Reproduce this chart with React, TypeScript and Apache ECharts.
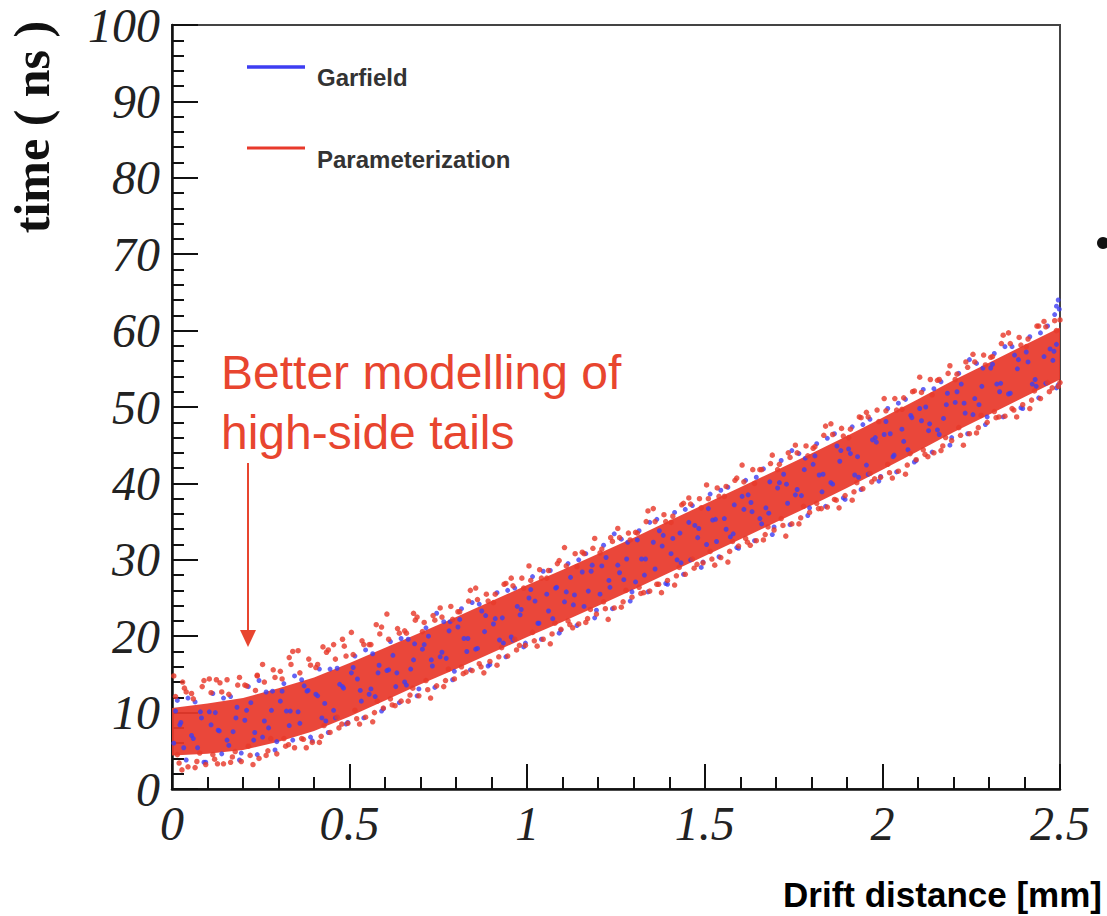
import React, { useEffect, useRef } from "react";
import * as echarts from "echarts";

const RED = "#e8392b";
const BLUE = "#3d3df2";

const seriesNames = ["Garfield", "Parameterization"];

// Dense core of the cloud, x in mm, time in ns
const bandX = [0, 0.1, 0.2, 0.3, 0.4, 0.5, 0.6, 0.7, 0.8, 0.9, 1.0, 1.1, 1.2, 1.3, 1.4, 1.5, 1.6, 1.7, 1.8, 1.9, 2.0, 2.1, 2.2, 2.3, 2.4, 2.5];
const bandLow = [4.4, 4.6, 5.1, 6.2, 7.6, 9.5, 11.6, 13.7, 15.7, 17.8, 19.9, 21.9, 24.0, 26.1, 28.3, 30.5, 32.7, 34.9, 37.1, 39.4, 41.8, 44.2, 46.7, 49.0, 51.3, 53.6];
const bandHigh = [10.6, 11.2, 11.9, 13.2, 14.6, 16.5, 18.5, 20.5, 22.5, 24.6, 26.7, 28.7, 30.8, 32.9, 35.1, 37.3, 39.5, 41.7, 43.9, 46.2, 48.6, 51.0, 53.5, 55.8, 58.1, 60.4];

// Parameterization (red) points, the fringe and high-side tail of the cloud
const redPointsA = [
  [0.01, 12.1], [0.035, 13.2], [0.02, 3.4], [0.045, 2.9], [0.03, 14.0],
  [0.06, 11.8], [0.085, 13.4], [0.07, 3.6], [0.095, 3.2],
  [0.11, 12.6], [0.135, 13.9], [0.12, 3.9], [0.145, 3.3], [0.125, 14.3],
  [0.16, 12.4], [0.185, 13.6], [0.17, 4.2], [0.195, 3.6],
  [0.21, 13.5], [0.235, 12.9], [0.22, 4.4], [0.245, 4.0], [0.24, 14.8],
  [0.26, 14.0], [0.285, 15.6], [0.27, 5.0], [0.295, 4.6],
  [0.31, 14.4], [0.335, 16.3], [0.32, 5.6], [0.345, 5.4], [0.33, 17.2],
  [0.36, 15.2], [0.385, 17.0], [0.37, 6.5], [0.395, 6.1],
  [0.41, 16.3], [0.435, 17.9], [0.42, 6.9], [0.445, 7.4], [0.425, 18.6],
  [0.46, 17.0], [0.485, 18.7], [0.47, 8.0], [0.495, 8.6], [0.48, 19.6],
  [0.51, 17.6], [0.535, 19.4], [0.52, 9.2], [0.545, 9.4],
  [0.56, 18.9], [0.585, 20.3], [0.57, 10.0], [0.595, 10.6], [0.575, 21.5],
  [0.61, 19.6], [0.635, 21.0], [0.62, 11.0], [0.645, 11.5],
  [0.66, 20.4], [0.685, 22.1], [0.67, 12.3], [0.695, 12.2], [0.68, 23.0],
  [0.71, 21.8], [0.735, 22.7], [0.72, 13.0], [0.745, 13.5],
  [0.76, 22.5], [0.785, 23.9], [0.77, 14.2], [0.795, 14.4],
  [0.81, 23.2], [0.835, 24.6], [0.82, 15.1], [0.845, 15.5],
  [0.86, 24.8], [0.885, 25.5], [0.87, 16.0], [0.895, 16.7],
  [0.91, 25.5], [0.935, 26.8], [0.92, 17.3], [0.945, 17.4],
  [0.96, 26.6], [0.985, 27.6], [0.97, 18.2], [0.995, 18.8],
  [1.01, 27.3], [1.035, 28.7], [1.02, 19.4], [1.045, 19.6],
  [1.06, 28.6], [1.085, 29.5], [1.07, 20.3], [1.095, 20.9],
  [1.11, 29.2], [1.135, 30.8], [1.12, 21.5], [1.145, 21.6],
  [1.16, 30.8], [1.185, 31.5], [1.17, 22.3], [1.195, 22.9],
  [1.21, 31.4], [1.235, 32.9], [1.22, 23.6], [1.245, 23.7],
  [1.26, 32.9], [1.285, 33.5], [1.27, 24.5], [1.295, 25.1],
  [1.31, 33.5], [1.335, 35.0], [1.32, 25.6], [1.345, 25.9],
  [1.36, 35.0], [1.385, 35.9], [1.37, 26.8], [1.395, 27.3],
  [1.41, 35.7], [1.435, 37.2], [1.42, 27.9], [1.445, 28.1],
  [1.46, 37.3], [1.485, 38.0], [1.47, 28.9], [1.495, 29.6],
  [1.51, 38.0], [1.535, 39.4], [1.52, 30.1], [1.545, 30.3],
  [1.56, 39.6], [1.585, 40.4], [1.57, 31.1], [1.595, 31.8],
  [1.61, 40.2], [1.635, 41.8], [1.62, 32.3], [1.645, 32.5],
  [1.66, 41.8], [1.685, 42.6], [1.67, 33.3], [1.695, 33.9],
  [1.71, 42.5], [1.735, 44.0], [1.72, 34.5], [1.745, 34.7],
  [1.76, 44.0], [1.785, 44.9], [1.77, 35.5], [1.795, 36.2],
  [1.81, 44.8], [1.835, 46.3], [1.82, 36.7], [1.845, 36.9],
  [1.86, 46.4], [1.885, 47.2], [1.87, 37.8], [1.895, 38.4],
  [1.91, 47.1], [1.935, 48.7], [1.92, 38.9], [1.945, 39.3],
  [1.96, 48.7], [1.985, 49.6], [1.97, 40.2], [1.995, 40.8],
  [2.01, 49.5], [2.035, 51.1], [2.02, 41.4], [2.045, 41.6],
  [2.06, 51.2], [2.085, 52.0], [2.07, 42.4], [2.095, 43.1],
  [2.11, 51.9], [2.135, 53.6], [2.12, 43.8], [2.145, 44.0],
  [2.16, 53.6], [2.185, 54.4], [2.17, 44.9], [2.195, 45.6],
  [2.21, 54.3], [2.235, 55.9], [2.22, 46.3], [2.245, 46.5],
  [2.26, 55.9], [2.285, 56.8], [2.27, 47.3], [2.295, 48.0],
  [2.31, 56.6], [2.335, 58.3], [2.32, 48.6], [2.345, 48.8],
  [2.36, 58.3], [2.385, 59.1], [2.37, 49.6], [2.395, 50.3],
  [2.41, 58.9], [2.435, 60.6], [2.42, 50.9], [2.445, 51.1],
  [2.46, 60.5], [2.485, 61.3], [2.47, 52.0], [2.495, 52.7],
  [2.5, 61.4], [2.5, 53.2],
];

const redPointsB = [
  [0.005, 14.8], [0.028, 2.5], [0.04, 12.7], [0.015, 4.5],
  [0.055, 12.5], [0.078, 4.7], [0.09, 14.2], [0.065, 2.8],
  [0.105, 14.4], [0.128, 3.3], [0.14, 12.7], [0.115, 4.5],
  [0.155, 14.3], [0.178, 4.9], [0.19, 14.6], [0.165, 3.5],
  [0.205, 13.6], [0.228, 3.2], [0.24, 14.9], [0.215, 5.6],
  [0.255, 16.3], [0.278, 6.6], [0.29, 14.6], [0.265, 4.4],
  [0.305, 15.4], [0.328, 5.8], [0.34, 18.0], [0.315, 6.6],
  [0.355, 18.1], [0.378, 5.4], [0.39, 16.2], [0.365, 6.6],
  [0.405, 15.9], [0.428, 8.3], [0.44, 18.2], [0.415, 6.1],
  [0.455, 18.9], [0.478, 8.5], [0.49, 17.4], [0.465, 9.4],
  [0.505, 20.5], [0.528, 8.5], [0.54, 18.9], [0.515, 10.3],
  [0.555, 18.9], [0.578, 11.5], [0.59, 21.2], [0.565, 8.8],
  [0.605, 22.9], [0.628, 10.9], [0.64, 20.4], [0.615, 11.8],
  [0.655, 20.7], [0.678, 13.2], [0.69, 22.5], [0.665, 11.5],
  [0.705, 20.6], [0.728, 11.9], [0.74, 22.1], [0.715, 14.2],
  [0.755, 23.7], [0.778, 15.7], [0.79, 22.2], [0.765, 13.4],
  [0.805, 23.2], [0.828, 15.3], [0.84, 26.0], [0.815, 16.0],
  [0.855, 26.3], [0.878, 15.2], [0.89, 24.6], [0.865, 16.4],
  [0.905, 24.4], [0.928, 18.5], [0.94, 26.9], [0.915, 16.2],
  [0.955, 27.6], [0.978, 18.8], [0.99, 26.3], [0.965, 19.6],
  [1.005, 29.2], [1.028, 18.7], [1.04, 27.6], [1.015, 20.5],
  [1.055, 27.6], [1.078, 21.7], [1.09, 29.9], [1.065, 19.0],
  [1.105, 31.6], [1.128, 21.1], [1.14, 29.1], [1.115, 22.0],
  [1.155, 31.0], [1.178, 23.5], [1.19, 32.8], [1.165, 21.8],
  [1.205, 30.9], [1.228, 22.2], [1.24, 32.4], [1.215, 24.5],
  [1.255, 34.1], [1.278, 26.0], [1.29, 32.6], [1.265, 23.8],
  [1.305, 33.6], [1.328, 25.7], [1.34, 36.4], [1.315, 26.4],
  [1.355, 36.7], [1.378, 25.7], [1.39, 35.0], [1.365, 26.8],
  [1.405, 34.9], [1.428, 29.0], [1.44, 37.4], [1.415, 26.7],
  [1.455, 38.1], [1.478, 29.4], [1.49, 36.8], [1.465, 30.1],
  [1.505, 39.8], [1.528, 29.3], [1.54, 38.3], [1.515, 31.1],
  [1.555, 38.3], [1.578, 32.4], [1.59, 40.7], [1.565, 29.7],
  [1.605, 42.4], [1.628, 31.9], [1.64, 40.0], [1.615, 32.8],
  [1.655, 41.8], [1.678, 34.3], [1.69, 43.7], [1.665, 32.6],
  [1.705, 41.8], [1.728, 33.1], [1.74, 43.4], [1.715, 35.4],
  [1.755, 45.0], [1.778, 37.0], [1.79, 43.6], [1.765, 34.7],
  [1.805, 44.6], [1.828, 36.7], [1.84, 47.5], [1.815, 37.4],
  [1.855, 47.8], [1.878, 36.8], [1.89, 46.2], [1.865, 37.9],
  [1.905, 46.0], [1.928, 40.1], [1.94, 48.6], [1.915, 37.8],
  [1.955, 49.3], [1.978, 40.6], [1.99, 48.1], [1.965, 41.3],
  [2.005, 51.1], [2.028, 40.7], [2.04, 49.6], [2.015, 42.5],
  [2.055, 49.7], [2.078, 43.9], [2.09, 52.1], [2.065, 41.2],
  [2.105, 53.9], [2.128, 43.5], [2.14, 51.6], [2.115, 44.4],
  [2.155, 53.5], [2.178, 46.0], [2.19, 55.4], [2.165, 44.3],
  [2.205, 53.6], [2.228, 45.0], [2.24, 55.2], [2.215, 47.3],
  [2.255, 56.9], [2.278, 48.9], [2.29, 55.5], [2.265, 46.6],
  [2.305, 56.5], [2.328, 48.7], [2.34, 59.4], [2.315, 49.4],
  [2.355, 59.7], [2.378, 48.7], [2.39, 58.1], [2.365, 49.8],
  [2.405, 57.9], [2.428, 52.1], [2.44, 60.6], [2.415, 49.8],
  [2.455, 61.2], [2.478, 52.5], [2.49, 60.0], [2.465, 53.2],
];

// Garfield (blue) points, speckles through the cloud and its fringe
const bluePointsA = [
  [0.015, 11.6], [0.04, 3.8], [0.025, 8.7], [0.005, 6.0],
  [0.065, 11.4], [0.09, 3.5], [0.055, 7.0], [0.08, 10.1],
  [0.115, 12.5], [0.14, 4.6], [0.105, 10.1], [0.13, 7.7],
  [0.165, 12.1], [0.19, 3.8], [0.155, 6.4], [0.18, 9.3],
  [0.215, 13.4], [0.24, 4.5], [0.205, 9.0], [0.23, 6.4],
  [0.265, 12.7], [0.29, 5.1], [0.255, 6.8], [0.28, 10.3],
  [0.315, 13.8], [0.34, 6.4], [0.305, 11.5], [0.33, 8.3],
  [0.365, 14.3], [0.39, 6.8], [0.355, 10.1], [0.38, 12.8],
  [0.415, 15.7], [0.44, 7.4], [0.405, 12.4], [0.43, 11.2],
  [0.465, 15.8], [0.49, 8.5], [0.455, 10.3], [0.48, 13.4],
  [0.515, 17.4], [0.54, 9.3], [0.505, 15.2], [0.53, 12.9],
  [0.565, 17.7], [0.59, 10.2], [0.555, 12.4], [0.58, 15.2],
  [0.615, 19.3], [0.64, 11.3], [0.605, 15.5], [0.63, 13.4],
  [0.665, 19.6], [0.69, 12.2], [0.655, 14.0], [0.68, 16.9],
  [0.715, 21.1], [0.74, 13.3], [0.705, 18.3], [0.73, 16.9],
  [0.765, 21.9], [0.79, 14.3], [0.755, 17.3], [0.78, 20.7],
  [0.815, 23.6], [0.84, 15.6], [0.805, 21.2], [0.83, 18.0],
  [0.865, 24.2], [0.89, 16.1], [0.855, 18.3], [0.88, 20.6],
  [0.915, 25.7], [0.94, 17.3], [0.905, 21.6], [0.93, 22.4],
  [0.965, 26.3], [0.99, 18.6], [0.955, 19.9], [0.98, 22.8],
  [1.015, 27.8], [1.04, 19.6], [1.005, 25.0], [1.03, 21.7],
  [1.065, 28.6], [1.09, 20.4], [1.055, 25.5], [1.08, 26.3],
  [1.115, 29.5], [1.14, 21.4], [1.105, 24.5], [1.13, 24.1],
  [1.165, 30.8], [1.19, 22.4], [1.155, 28.4], [1.18, 28.5],
  [1.215, 31.9], [1.24, 23.6], [1.205, 25.5], [1.23, 27.3],
  [1.265, 32.7], [1.29, 24.6], [1.255, 29.3], [1.28, 30.1],
  [1.315, 33.8], [1.34, 25.8], [1.305, 27.1], [1.33, 28.0],
  [1.365, 35.3], [1.39, 26.9], [1.355, 32.3], [1.38, 31.8],
  [1.415, 36.2], [1.44, 28.1], [1.405, 30.8], [1.43, 33.5],
  [1.465, 37.1], [1.49, 29.0], [1.455, 34.9], [1.48, 32.9],
  [1.515, 38.6], [1.54, 30.4], [1.505, 32.0], [1.53, 35.3],
  [1.565, 39.5], [1.59, 31.6], [1.555, 35.4], [1.58, 33.4],
  [1.615, 40.4], [1.64, 32.5], [1.605, 38.3], [1.63, 37.5],
  [1.665, 41.9], [1.69, 33.3], [1.655, 35.4], [1.68, 36.1],
  [1.715, 43.0], [1.74, 34.6], [1.705, 39.4], [1.73, 39.9],
  [1.765, 43.9], [1.79, 35.8], [1.755, 38.5], [1.78, 41.8],
  [1.815, 45.2], [1.84, 37.0], [1.805, 42.5], [1.83, 38.9],
  [1.865, 46.5], [1.89, 38.1], [1.855, 40.1], [1.88, 42.9],
  [1.915, 47.4], [1.94, 39.2], [1.905, 44.5], [1.93, 43.5],
  [1.965, 48.4], [1.99, 40.3], [1.955, 42.4], [1.98, 46.0],
  [2.015, 49.8], [2.04, 41.5], [2.005, 46.4], [2.03, 43.5],
  [2.065, 51.0], [2.09, 42.8], [2.055, 47.1], [2.08, 48.9],
  [2.115, 52.3], [2.14, 44.1], [2.105, 49.8], [2.13, 46.9],
  [2.165, 53.3], [2.19, 45.0], [2.155, 47.0], [2.18, 50.3],
  [2.215, 54.4], [2.24, 46.5], [2.205, 50.6], [2.23, 50.5],
  [2.265, 55.7], [2.29, 47.7], [2.255, 49.0], [2.28, 52.7],
  [2.315, 57.0], [2.34, 48.7], [2.305, 55.1], [2.33, 52.0],
  [2.365, 57.9], [2.39, 49.9], [2.355, 51.7], [2.38, 55.0],
  [2.415, 59.2], [2.44, 51.2], [2.405, 57.2], [2.43, 53.6],
  [2.465, 60.6], [2.49, 52.5], [2.455, 56.6], [2.48, 56.1],
  [2.498, 62.8], [2.495, 64.0], [2.49, 58.2], [2.49, 63.2], [2.485, 62.1],
];

const bluePointsB = [
  [0.01, 10.2], [0.033, 5.4], [0.045, 11.9], [0.022, 8.4],
  [0.06, 6.6], [0.083, 9.3], [0.095, 3.5], [0.072, 5.4],
  [0.11, 8.4], [0.133, 7.6], [0.145, 11.9], [0.122, 10.0],
  [0.16, 5.7], [0.183, 10.7], [0.195, 4.7], [0.172, 7.5],
  [0.21, 10.3], [0.233, 7.4], [0.245, 14.2], [0.222, 11.3],
  [0.26, 8.9], [0.283, 12.8], [0.295, 6.2], [0.272, 8.0],
  [0.31, 12.8], [0.333, 10.2], [0.345, 14.8], [0.322, 10.2],
  [0.36, 8.6], [0.383, 12.9], [0.395, 6.3], [0.372, 13.5],
  [0.41, 12.2], [0.433, 8.9], [0.445, 15.7], [0.422, 9.3],
  [0.46, 9.3], [0.483, 13.2], [0.495, 8.7], [0.472, 13.7],
  [0.51, 15.9], [0.533, 11.5], [0.545, 18.2], [0.522, 14.4],
  [0.56, 13.1], [0.583, 16.2], [0.595, 10.5], [0.572, 12.1],
  [0.61, 15.6], [0.633, 15.2], [0.645, 19.7], [0.622, 17.5],
  [0.66, 13.6], [0.683, 19.0], [0.695, 13.1], [0.672, 15.7],
  [0.71, 18.9], [0.733, 16.1], [0.745, 23.0], [0.722, 20.0],
  [0.76, 17.9], [0.783, 21.9], [0.795, 15.4], [0.772, 17.1],
  [0.81, 22.2], [0.833, 19.7], [0.845, 24.4], [0.822, 19.7],
  [0.86, 18.4], [0.883, 22.7], [0.895, 16.3], [0.872, 23.3],
  [0.91, 22.3], [0.933, 19.1], [0.945, 26.0], [0.922, 19.5],
  [0.96, 19.5], [0.983, 23.5], [0.995, 19.1], [0.972, 23.9],
  [1.01, 26.1], [1.033, 21.7], [1.045, 28.5], [1.022, 24.6],
  [1.06, 23.3], [1.083, 26.4], [1.095, 20.8], [1.072, 22.3],
  [1.11, 25.8], [1.133, 25.4], [1.145, 30.0], [1.122, 27.7],
  [1.16, 23.9], [1.183, 29.3], [1.195, 23.4], [1.172, 25.9],
  [1.21, 29.2], [1.233, 26.4], [1.245, 33.4], [1.222, 30.3],
  [1.26, 28.3], [1.283, 32.3], [1.295, 25.8], [1.272, 27.4],
  [1.31, 32.6], [1.333, 30.1], [1.345, 34.9], [1.322, 30.1],
  [1.36, 28.8], [1.383, 33.2], [1.395, 26.8], [1.372, 33.8],
  [1.41, 32.8], [1.433, 29.6], [1.445, 36.6], [1.422, 30.0],
  [1.46, 30.0], [1.483, 34.1], [1.495, 29.7], [1.472, 34.5],
  [1.51, 36.7], [1.533, 32.4], [1.545, 39.1], [1.522, 35.2],
  [1.56, 34.0], [1.583, 37.2], [1.595, 31.5], [1.572, 33.0],
  [1.61, 36.6], [1.633, 36.3], [1.645, 40.8], [1.622, 38.5],
  [1.66, 34.7], [1.683, 40.2], [1.695, 34.3], [1.672, 36.8],
  [1.71, 40.1], [1.733, 37.4], [1.745, 44.3], [1.722, 41.2],
  [1.76, 39.2], [1.783, 43.3], [1.795, 36.8], [1.772, 38.4],
  [1.81, 43.6], [1.833, 41.2], [1.845, 45.9], [1.822, 41.1],
  [1.86, 39.9], [1.883, 44.3], [1.895, 37.9], [1.872, 44.9],
  [1.91, 43.9], [1.933, 40.8], [1.945, 47.7], [1.922, 41.1],
  [1.96, 41.2], [1.983, 45.4], [1.995, 40.9], [1.972, 45.7],
  [2.01, 48.1], [2.033, 43.7], [2.045, 50.5], [2.022, 46.5],
  [2.06, 45.5], [2.083, 48.6], [2.095, 43.0], [2.072, 44.4],
  [2.11, 48.2], [2.133, 47.8], [2.145, 52.4], [2.122, 50.0],
  [2.16, 46.4], [2.183, 51.8], [2.195, 46.0], [2.172, 48.5],
  [2.21, 52.0], [2.233, 49.2], [2.245, 56.2], [2.222, 53.0],
  [2.26, 51.1], [2.283, 55.1], [2.295, 48.7], [2.272, 50.3],
  [2.31, 55.6], [2.333, 53.1], [2.345, 57.9], [2.322, 53.0],
  [2.36, 51.8], [2.383, 56.2], [2.395, 49.8], [2.372, 56.8],
  [2.41, 55.9], [2.433, 52.7], [2.445, 59.7], [2.422, 53.0],
  [2.46, 53.1], [2.483, 57.3], [2.495, 52.9], [2.472, 57.6],
];

const annotationLines = ["Better modelling of", "high-side tails"];

export default function App() {
  const ref = useRef<HTMLDivElement>(null);
  useEffect(() => {
    if (!ref.current) return;
    const chart = echarts.init(ref.current, undefined, { renderer: "svg" });
    const tickFont = { fontFamily: "Liberation Serif", fontStyle: "italic" as const, fontSize: 48, color: "#222" };
    const txt = (x: number, y: number, text: string, font: string, fill: string, align: string, rotation = 0) => ({
      type: "text", x, y, rotation,
      style: { text, font, fill, align, verticalAlign: "middle", textAlign: align, textVerticalAlign: "middle" },
    });
    chart.setOption({
      animation: false,
      backgroundColor: "#fff",
      grid: { left: 172, right: 47, top: 25, bottom: 127, show: true, borderColor: "#444", borderWidth: 2, backgroundColor: "transparent" },
      xAxis: {
        type: "value", min: 0, max: 2.5, interval: 0.5,
        axisLine: { show: true, onZero: false, lineStyle: { color: "#111", width: 2.5 } },
        axisTick: { show: true, inside: true, length: 25, lineStyle: { color: "#111", width: 2 } },
        minorTick: { show: true, splitNumber: 5, length: 12, lineStyle: { color: "#111", width: 2 } },
        splitLine: { show: false },
        axisLabel: { ...tickFont, margin: 10, showMinLabel: true, showMaxLabel: true },
      },
      yAxis: {
        type: "value", min: 0, max: 100, interval: 10,
        axisLine: { show: true, onZero: false, lineStyle: { color: "#111", width: 2.5 } },
        axisTick: { show: true, inside: true, length: 26, lineStyle: { color: "#111", width: 2 } },
        minorTick: { show: true, splitNumber: 5, length: 12, lineStyle: { color: "#111", width: 2 } },
        splitLine: { show: false },
        axisLabel: { ...tickFont, margin: 12, verticalAlign: "middle", padding: [8, 0, 0, 0] },
      },
      series: [
        {
          type: "custom",
          name: "core",
          silent: true,
          clip: true,
          z: 1,
          data: [[bandX[0], bandLow[0]]],
          renderItem: (_p: any, api: any) => {
            const top = bandX.map((x, i) => api.coord([x, bandHigh[i]]));
            const bot = bandX.map((x, i) => api.coord([x, bandLow[i]])).reverse();
            return {
              type: "polygon",
              shape: { points: top.concat(bot) },
              style: { fill: RED, opacity: 0.93 },
            };
          },
        },
        {
          type: "scatter",
          name: seriesNames[0],
          data: bluePointsA.concat(bluePointsB),
          symbol: "circle",
          symbolSize: 5,
          itemStyle: { color: BLUE, opacity: 0.8 },
          z: 3,
        },
        {
          type: "scatter",
          name: seriesNames[1],
          data: redPointsA.concat(redPointsB),
          symbol: "circle",
          symbolSize: 5.5,
          itemStyle: { color: RED, opacity: 0.82 },
          z: 4,
        },
      ],
      graphic: [
        txt(32, 127, "time ( ns )", 'bold 50px "Liberation Serif"', "#111", "center", Math.PI / 2),
        txt(1102, 894, "Drift distance [mm]", 'bold 35px "Liberation Sans"', "#000", "right"),
        { type: "line", shape: { x1: 247, y1: 67, x2: 305, y2: 67 }, style: { stroke: BLUE, lineWidth: 3.5 } },
        { type: "line", shape: { x1: 247, y1: 148, x2: 305, y2: 148 }, style: { stroke: RED, lineWidth: 3 } },
        txt(317, 77, seriesNames[0], 'bold 24px "Liberation Sans"', "#333", "left"),
        txt(317, 159, seriesNames[1], 'bold 24px "Liberation Sans"', "#333", "left"),
        txt(221, 372, annotationLines[0], '48px "Liberation Sans"', "#e8452f", "left"),
        txt(221, 432, annotationLines[1], '48px "Liberation Sans"', "#e8452f", "left"),
        { type: "line", shape: { x1: 248, y1: 463, x2: 248, y2: 632 }, style: { stroke: "#e8452f", lineWidth: 2 } },
        { type: "polygon", shape: { points: [[240, 630], [256, 630], [248, 647]] }, style: { fill: "#e8452f" } },
        { type: "circle", shape: { cx: 1103, cy: 243, r: 6 }, style: { fill: "#111" } },
      ],
    });
    return () => chart.dispose();
  }, []);
  return <div ref={ref} style={{ position: "absolute", left: 0, top: 0, width: 1107, height: 916 }} />;
}
